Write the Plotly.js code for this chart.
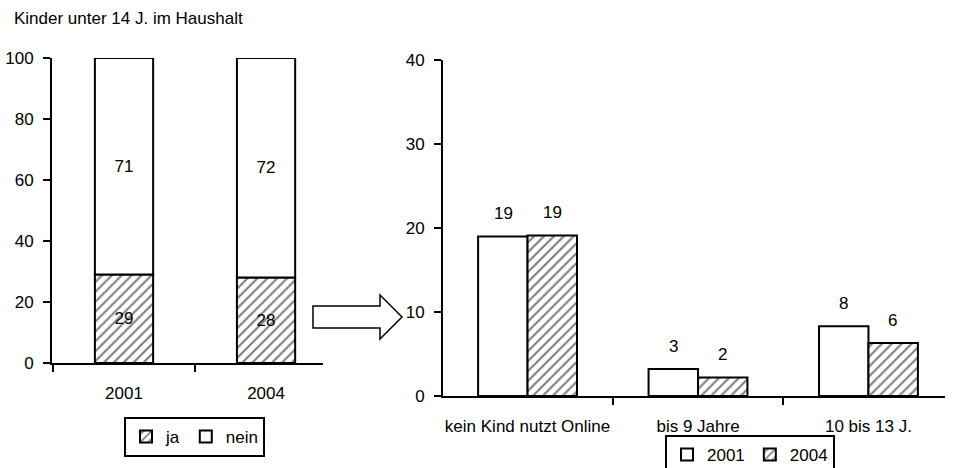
<!DOCTYPE html>
<html>
<head>
<meta charset="utf-8">
<script src="https://cdn.plot.ly/plotly-3.0.1.min.js"></script>
<style>html,body{margin:0;padding:0;background:#fff;}#chart{width:959px;height:468px;}</style>
</head>
<body>
<div id="chart"></div>
<script>
// ---- data ----
const leftTitle = "Kinder unter 14 J. im Haushalt";
const years = ["2001", "2004"];
const jaValues = [29, 28];
const neinValues = [71, 72];
const leftLegendNames = ["ja", "nein"];

const groups = ["kein Kind nutzt Online", "bis 9 Jahre", "10 bis 13 J."];
const values2001 = [19, 3.2, 8.3];
const values2004 = [19.1, 2.2, 6.3];
const labels2001 = [19, 3, 8];
const labels2004 = [19, 2, 6];
const rightLegendNames = ["2001", "2004"];

const leftTicks = [0, 20, 40, 60, 80, 100];
const rightTicks = [0, 10, 20, 30, 40];

// ---- layout helpers ----
const W = 959, H = 468;
const px = x => x / W;
const py = y => 1 - y / H;
const FONT = "Liberation Sans, Arial, sans-serif";
const FS = 17;
const hatch = {shape: "/", fgcolor: "#000", bgcolor: "#fff", size: 7, solidity: 0.3, fillmode: "overlay"};
const outline = {color: "#000", width: 2};

const traces = [
  {type: "bar", name: leftLegendNames[0], x: years, y: jaValues, xaxis: "x", yaxis: "y",
   width: 0.41, marker: {color: "#fff", pattern: hatch, line: outline},
   text: jaValues.map(String), textposition: "inside", insidetextanchor: "middle",
   textfont: {color: "#000", size: FS, family: FONT}, constraintext: "none",
   legend: "legend", hoverinfo: "skip"},
  {type: "bar", name: leftLegendNames[1], x: years, y: neinValues, base: jaValues, xaxis: "x", yaxis: "y",
   width: 0.41, marker: {color: "#fff", line: outline},
   text: neinValues.map(String), textposition: "inside", insidetextanchor: "middle",
   textfont: {color: "#000", size: FS, family: FONT}, constraintext: "none",
   legend: "legend", hoverinfo: "skip"},
  {type: "bar", name: rightLegendNames[0], x: groups, y: values2001, xaxis: "x2", yaxis: "y2",
   width: 0.29, offset: -0.29, marker: {color: "#fff", line: outline},
   legend: "legend2", hoverinfo: "skip"},
  {type: "bar", name: rightLegendNames[1], x: groups, y: values2004, xaxis: "x2", yaxis: "y2",
   width: 0.29, offset: 0, marker: {color: "#fff", pattern: hatch, line: outline},
   legend: "legend2", hoverinfo: "skip"}
];

const annotations = [];
groups.forEach((g, i) => {
  annotations.push({xref: "x2", yref: "y2", x: g, y: values2001[i], text: String(labels2001[i]),
    showarrow: false, xshift: -24.5, yshift: 23, yanchor: "middle", font: {size: FS, color: "#000", family: FONT}});
  annotations.push({xref: "x2", yref: "y2", x: g, y: values2004[i], text: String(labels2004[i]),
    showarrow: false, xshift: 24.5, yshift: 23, yanchor: "middle", font: {size: FS, color: "#000", family: FONT}});
});

const arrowPts = [[313,306],[380,306],[380,295],[402,317],[380,339],[380,328],[313,328]];
const arrowPath = "M" + arrowPts.map(p => px(p[0]).toFixed(5) + "," + py(p[1]).toFixed(5)).join(" L") + " Z";

const axisCommon = {showline: true, linecolor: "#000", linewidth: 2, ticks: "outside", tickcolor: "#000",
  tickwidth: 2, ticklen: 7, showgrid: false, zeroline: false, fixedrange: true, tickangle: 0,
  tickfont: {size: FS, color: "#000", family: FONT}};

const layout = {
  width: W, height: H,
  margin: {l: 0, r: 0, t: 0, b: 0, autoexpand: false},
  paper_bgcolor: "#fff", plot_bgcolor: "rgba(0,0,0,0)",
  font: {family: FONT, color: "#000", size: FS},
  barmode: "overlay",
  title: {text: leftTitle, x: px(14), xanchor: "left", xref: "paper", y: py(18), yanchor: "middle", yref: "paper",
    font: {size: 17, color: "#000", family: FONT}},
  xaxis: Object.assign({}, axisCommon, {domain: [px(52), px(323)], anchor: "y", type: "category",
    range: [-0.507, 1.401], tickson: "boundaries", ticklabelstandoff: 14}),
  yaxis: Object.assign({}, axisCommon, {domain: [py(363), py(58)], anchor: "x", range: [0, 100],
    tickvals: leftTicks, ticklabelstandoff: 6}),
  xaxis2: Object.assign({}, axisCommon, {domain: [px(443), px(945)], anchor: "y2", type: "category",
    range: [-0.496, 2.449], tickson: "boundaries", ticklabelstandoff: 14}),
  yaxis2: Object.assign({}, axisCommon, {domain: [py(396), py(60)], anchor: "x2", range: [0, 40],
    tickvals: rightTicks, ticklabelstandoff: 6}),
  legend: {orientation: "h", x: px(124), xanchor: "left", y: py(417), yanchor: "top", xref: "paper", yref: "paper",
    bgcolor: "#fff", bordercolor: "#000", borderwidth: 2, font: {size: FS, color: "#000", family: FONT},
    itemwidth: 30, traceorder: "normal", tracegroupgap: 0},
  legend2: {orientation: "h", x: px(665), xanchor: "left", y: py(435), yanchor: "top", xref: "paper", yref: "paper",
    bgcolor: "#fff", bordercolor: "#000", borderwidth: 2, font: {size: FS, color: "#000", family: FONT},
    itemwidth: 30, traceorder: "normal", tracegroupgap: 0},
  annotations: annotations,
  shapes: [{type: "path", xref: "paper", yref: "paper", path: arrowPath, fillcolor: "#fff",
    line: {color: "#000", width: 1.5}}]
};

Plotly.newPlot("chart", traces, layout, {staticPlot: true, displayModeBar: false});
</script>
</body>
</html>
